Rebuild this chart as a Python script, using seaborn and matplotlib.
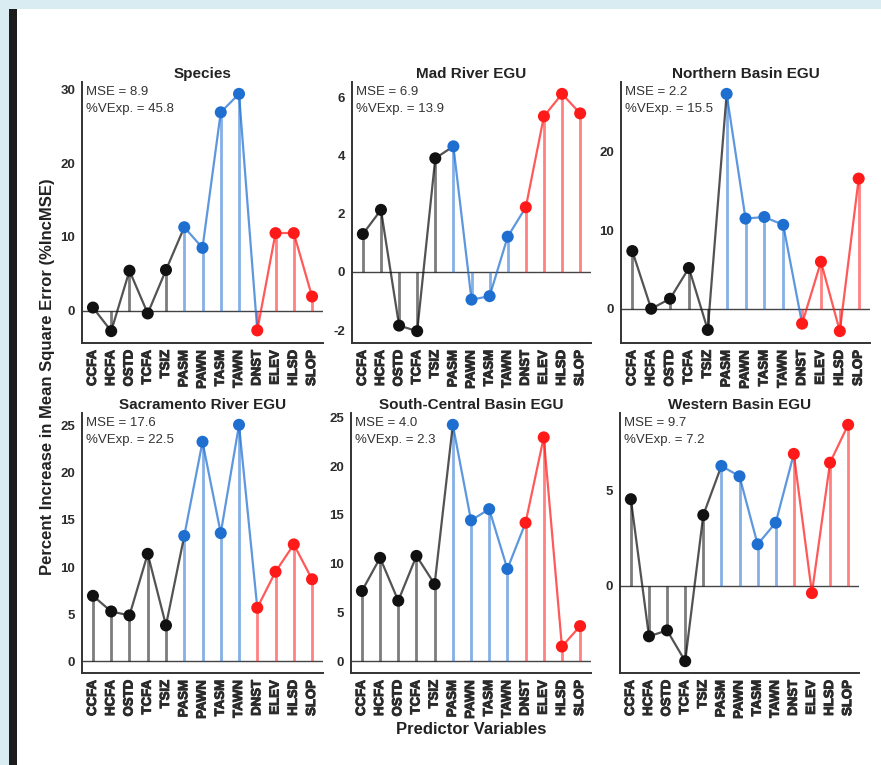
import numpy as np
import pandas as pd
import matplotlib
matplotlib.use("Agg")
import matplotlib.pyplot as plt
import matplotlib.patheffects as pe
from matplotlib.patches import Rectangle
from matplotlib.collections import LineCollection
import seaborn as sns

sns.set_style("white")
plt.rcParams["font.family"] = ["Liberation Sans", "DejaVu Sans"]

# Predictor variables and their groups
variables = ["CCFA", "HCFA", "OSTD", "TCFA", "TSIZ",
             "PASM", "PAWN", "TASM", "TAWN",
             "DNST", "ELEV", "HLSD", "SLOP"]
groups = ["stand"] * 5 + ["climate"] * 4 + ["topo"] * 4
palette = {"stand": "#111111", "climate": "#1f6fd1", "topo": "#ff1a1a"}

# %IncMSE for each model
species = [0.4, -2.8, 5.4, -0.4, 5.5, 11.3, 8.5, 26.9, 29.4, -2.7, 10.5, 10.5, 1.9]
mad_river = [1.3, 2.13, -1.84, -2.03, 3.9, 4.31, -0.95, -0.83, 1.21, 2.22, 5.34, 6.11, 5.44]
northern = [7.36, 0.0, 1.28, 5.2, -2.7, 27.4, 11.5, 11.7, 10.7, -1.9, 6.0, -2.85, 16.6]
sacramento = [6.94, 5.28, 4.86, 11.4, 3.8, 13.3, 23.3, 13.6, 25.1, 5.67, 9.5, 12.4, 8.7]
south_central = [7.2, 10.6, 6.2, 10.8, 7.9, 24.25, 14.45, 15.6, 9.46, 14.2, 22.96, 1.5, 3.6]
western = [4.53, -2.64, -2.33, -3.94, 3.7, 6.27, 5.73, 2.17, 3.3, 6.9, -0.38, 6.44, 8.42]

titles = ["Species", "Mad River EGU", "Northern Basin EGU",
          "Sacramento River EGU", "South-Central Basin EGU", "Western Basin EGU"]
series = [species, mad_river, northern, sacramento, south_central, western]
mse = ["8.9", "6.9", "2.2", "17.6", "4.0", "9.7"]
vexp = ["45.8", "13.9", "15.5", "22.5", "2.3", "7.2"]
yticks = [[0, 10, 20, 30], [-2, 0, 2, 4, 6], [0, 10, 20],
          [0, 5, 10, 15, 20, 25], [0, 5, 10, 15, 20, 25], [0, 5]]

W, H = 881, 765
fig = plt.figure(figsize=(W / 100, H / 100), dpi=100)
fig.patch.set_facecolor("#d8ecf2")
fig.patches.append(Rectangle((17 / W, 0), 1 - 17 / W, 1 - 9 / H,
                             transform=fig.transFigure, facecolor="white",
                             edgecolor="none", zorder=-10))
fig.patches.append(Rectangle((9 / W, 0), 8 / W, 1 - 9 / H,
                             transform=fig.transFigure, facecolor="#1c1c1c",
                             edgecolor="none", zorder=-10))

# panel boxes in pixels: (left, right, top, bottom)
boxes = [(82, 323, 82, 343), (352, 591, 82, 343), (621, 870, 82, 343),
         (82, 323, 413, 673), (351, 591, 413, 673), (620, 859, 413, 673)]

txt_col = "#2b2b2b"
heavy = [pe.withStroke(linewidth=0.7, foreground=txt_col)]
for k, (vals, box) in enumerate(zip(series, boxes)):
    l, r, t, b = box
    ax = fig.add_axes([l / W, 1 - b / H, (r - l) / W, (b - t) / H])
    ax.set_zorder(1)
    df = pd.DataFrame({"var": variables, "group": groups, "value": vals})
    df["x"] = np.arange(len(df))
    cols = [palette[g] for g in df["group"]]

    ax.axhline(0, color="#444444", lw=1.0, zorder=1)
    # stems from zero to each value
    ax.vlines(df["x"], 0, df["value"], colors=cols, lw=2.0, alpha=0.55, zorder=2)
    # path connecting the points, each segment coloured by its starting point
    pts = df[["x", "value"]].to_numpy()
    segs = np.stack([pts[:-1], pts[1:]], axis=1)
    ax.add_collection(LineCollection(segs, colors=cols[:-1], linewidths=1.6,
                                     alpha=0.72, zorder=3))
    sns.scatterplot(data=df, x="x", y="value", hue="group", palette=palette,
                    s=75, edgecolor="none", legend=False, ax=ax, zorder=4)

    lo = min(0, df["value"].min())
    hi = max(0, df["value"].max())
    pad = 0.05 * (hi - lo)
    ax.set_ylim(lo - pad, hi + pad)
    ax.set_xlim(-0.6, len(df) - 0.4)
    ax.set_xticks(df["x"])
    ax.set_xticklabels(df["var"], rotation=90, fontsize=9.5, fontweight="bold",
                       color=txt_col, path_effects=heavy)
    ax.set_yticks(yticks[k])
    ax.set_yticklabels([str(v) for v in yticks[k]], fontsize=9.5,
                       fontweight="bold", color=txt_col)
    ax.tick_params(axis="both", length=3, width=0.8, color="#555555", pad=2)
    ax.set_xlabel("")
    ax.set_ylabel("")
    for s in ["top", "right"]:
        ax.spines[s].set_visible(False)
    for s in ["left", "bottom"]:
        ax.spines[s].set_color("#333333")
        ax.spines[s].set_linewidth(1.4)
    ax.set_title(titles[k], fontsize=11, fontweight="bold", color="#222222", pad=3)
    ax.text(0.015, 0.985, f"MSE = {mse[k]}\n%VExp. = {vexp[k]}",
            transform=ax.transAxes, ha="left", va="top", fontsize=9.5,
            color="#333333", linespacing=1.55)

fig.text(48 / W, 1 - 377 / H, "Percent Increase in Mean Square Error (%IncMSE)",
         rotation=90, ha="center", va="center", fontsize=12, fontweight="bold",
         color="#222222")
fig.text(471 / W, 1 - 730 / H, "Predictor Variables", ha="center", va="center",
         fontsize=12, fontweight="bold", color="#222222")

fig.savefig("out.png", dpi=100, facecolor=fig.get_facecolor())
